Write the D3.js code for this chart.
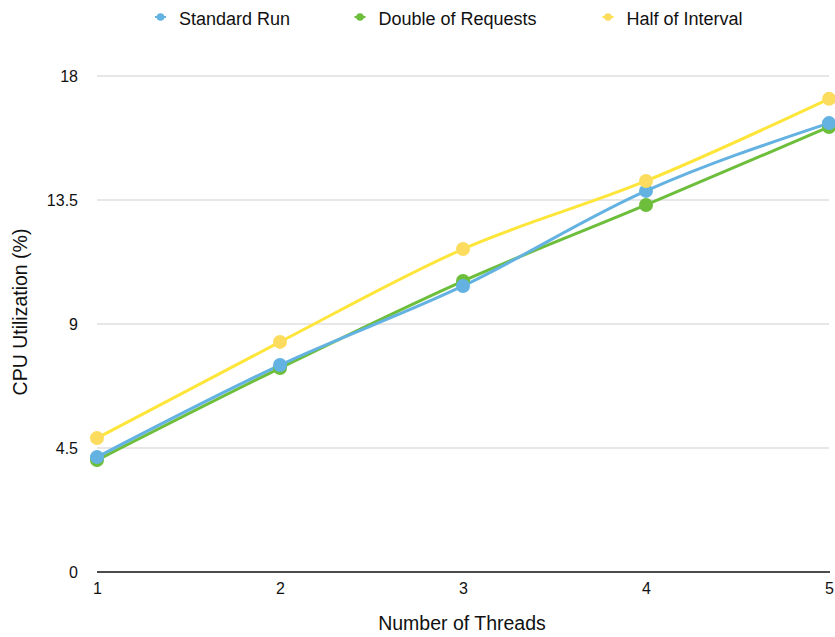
<!DOCTYPE html>
<html>
<head>
<meta charset="utf-8">
<script src="https://cdn.jsdelivr.net/npm/d3@7"></script>
<style>
  body { margin: 0; background: #fff; }
  text { font-family: "Liberation Sans", Arial, sans-serif; fill: #111; }
</style>
</head>
<body>
<svg width="835" height="637"></svg>
<script>
// thread counts on the x axis
var threads = [1, 2, 3, 4, 5];
var yTicks = [0, 4.5, 9, 13.5, 18];

var seriesNames = ['Standard Run', 'Double of Requests', 'Half of Interval'];
var standardRun = [4.17, 7.51, 10.38, 13.83, 16.29];
var doubleRequests = [4.06, 7.40, 10.56, 13.32, 16.15];
var halfInterval = [4.86, 8.35, 11.72, 14.19, 17.17];

var lineColors = ['#63b2e1', '#6cbe3b', '#fde53a'];
var dotColors = ['#63b2e1', '#6cbe3b', '#fcdc5f'];

var svg = d3.select('svg');

var x = d3.scaleLinear().domain([1, 5]).range([97, 829]);
var y = d3.scaleLinear().domain([0, 18]).range([572, 76]);

// grid
svg.append('g')
  .selectAll('line')
  .data(yTicks.filter(t => t > 0))
  .enter()
  .append('line')
    .attr('x1', x(1))
    .attr('x2', 829)
    .attr('y1', d => y(d))
    .attr('y2', d => y(d))
    .attr('stroke', '#cfcfcf')
    .attr('stroke-width', 1);

// axes
var yAxis = svg.append('g')
    .attr('transform', 'translate(' + x(1) + ',0)')
    .call(d3.axisLeft(y).tickValues(yTicks).tickSize(0).tickPadding(19).tickFormat(d3.format('')));
yAxis.select('.domain').remove();
yAxis.selectAll('text').style('font-size', '16px');

var xAxis = svg.append('g')
    .attr('transform', 'translate(0,' + y(0) + ')')
    .call(d3.axisBottom(x).tickValues(threads).tickSize(0).tickPadding(11).tickFormat(d3.format('d')));
xAxis.select('.domain').remove();
xAxis.selectAll('text').style('font-size', '16px');

svg.append('line')
    .attr('x1', x(1)).attr('x2', 830)
    .attr('y1', y(0)).attr('y2', y(0))
    .attr('stroke', '#111').attr('stroke-width', 1.5);

svg.append('text')
    .attr('x', 462).attr('y', 630)
    .attr('text-anchor', 'middle')
    .style('font-size', '19.5px')
    .text('Number of Threads');

svg.append('text')
    .attr('transform', 'translate(20.5,312) rotate(-90)')
    .attr('text-anchor', 'middle')
    .attr('dy', '0.35em')
    .style('font-size', '19.5px')
    .text('CPU Utilization (%)');

// lines + dots
var allSeries = [standardRun, doubleRequests, halfInterval].map(function(vals, i) {
  return { name: seriesNames[i], values: vals.map((v, j) => ({ t: threads[j], v: v })), i: i };
});

var line = d3.line()
    .x(d => x(d.t))
    .y(d => y(d.v))
    .curve(d3.curveMonotoneX);

var drawOrder = [1, 0, 2];
drawOrder.forEach(function(k) {
  var s = allSeries[k];
  svg.append('path')
      .datum(s.values)
      .attr('d', line)
      .attr('fill', 'none')
      .attr('stroke', lineColors[k])
      .attr('stroke-width', 3);
});
drawOrder.forEach(function(k) {
  var s = allSeries[k];
  svg.append('g')
    .selectAll('circle')
    .data(s.values)
    .enter()
    .append('circle')
      .attr('cx', d => x(d.t))
      .attr('cy', d => y(d.v))
      .attr('r', 7)
      .attr('fill', dotColors[k]);
});

// legend
var legendX = [160.5, 360, 608];
var legend = svg.append('g')
  .selectAll('g')
  .data(seriesNames)
  .enter()
  .append('g')
    .attr('transform', (d, i) => 'translate(' + legendX[i] + ',17)');
legend.append('line')
    .attr('x1', -5.5).attr('x2', 5.5)
    .attr('stroke', (d, i) => lineColors[i]).attr('stroke-width', 2);
legend.append('circle')
    .attr('r', 3.8)
    .attr('fill', (d, i) => dotColors[i]);
legend.append('text')
    .attr('x', 18.5).attr('y', 7.5)
    .style('font-size', '18px')
    .text(d => d);
</script>
</body>
</html>
